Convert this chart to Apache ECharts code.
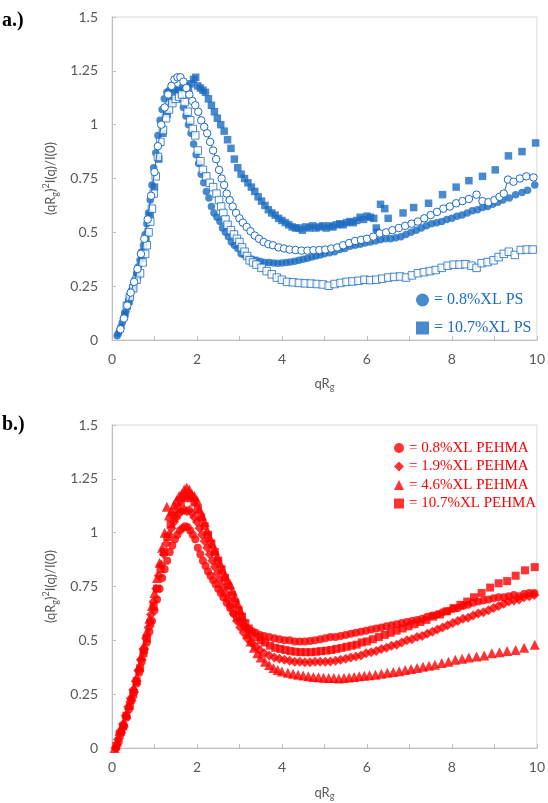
<!DOCTYPE html>
<html><head><meta charset="utf-8">
<script src="https://cdn.jsdelivr.net/npm/echarts@6/dist/echarts.min.js"></script>
<style>html,body{margin:0;padding:0;background:#fff}#c{width:548px;height:803px}</style>
</head><body><div id="c"></div>
<script>
// ---------- Panel a (PS) ----------
const psFilled08 = [[0.12,0.02],[0.15,0.03],[0.18,0.045],[0.21,0.06],[0.24,0.08],[0.27,0.10],[0.30,0.115],[0.33,0.135],[0.36,0.16],[0.39,0.18],[0.42,0.20],[0.46,0.23],[0.50,0.25],[0.54,0.28],[0.58,0.31],[0.62,0.34],[0.66,0.37],[0.70,0.41],[0.74,0.44],[0.78,0.49],[0.82,0.54],[0.86,0.59],[0.90,0.65],[0.94,0.72],[0.98,0.80],[1.03,0.87],[1.08,0.95],[1.13,1.02],[1.18,1.07],[1.23,1.12],[1.29,1.15],[1.35,1.16],[1.42,1.17],[1.48,1.165],[1.55,1.15],[1.62,1.12],[1.68,1.08],[1.74,1.04],[1.80,1.00],[1.86,0.96],[1.92,0.91],[1.98,0.86],[2.04,0.82],[2.10,0.77],[2.16,0.73],[2.22,0.69],[2.28,0.66],[2.34,0.62],[2.40,0.59],[2.47,0.57],[2.54,0.55],[2.60,0.52],[2.67,0.50],[2.74,0.48],[2.81,0.455],[2.88,0.44],[2.96,0.425],[3.04,0.40],[3.12,0.395],[3.20,0.385],[3.30,0.375],[3.40,0.37],[3.50,0.365],[3.60,0.36],[3.70,0.36],[3.80,0.358],[3.90,0.357],[4.00,0.358],[4.10,0.36],[4.20,0.362],[4.30,0.366],[4.40,0.37],[4.50,0.375],[4.60,0.38],[4.70,0.385],[4.80,0.39],[4.90,0.395],[5.00,0.40],[5.12,0.405],[5.24,0.41],[5.36,0.42],[5.48,0.425],[5.60,0.435],[5.72,0.44],[5.84,0.445],[5.96,0.45],[6.08,0.455],[6.20,0.46],[6.32,0.465],[6.44,0.47],[6.56,0.47],[6.68,0.475],[6.80,0.48],[6.92,0.49],[7.04,0.50],[7.16,0.51],[7.28,0.52],[7.40,0.53],[7.52,0.54],[7.64,0.545],[7.76,0.55],[7.88,0.56],[8.00,0.565],[8.12,0.575],[8.24,0.58],[8.36,0.59],[8.48,0.60],[8.60,0.605],[8.72,0.615],[8.84,0.62],[8.96,0.63],[9.08,0.64],[9.20,0.65],[9.35,0.66],[9.50,0.675],[9.65,0.685],[9.78,0.695],[9.95,0.72]];
const psOpen08 = [[0.20,0.05],[0.28,0.10],[0.36,0.16],[0.44,0.22],[0.52,0.27],[0.60,0.33],[0.68,0.40],[0.76,0.47],[0.84,0.56],[0.92,0.67],[1.00,0.78],[1.08,0.90],[1.16,1.00],[1.24,1.08],[1.32,1.14],[1.40,1.18],[1.47,1.21],[1.54,1.22],[1.61,1.22],[1.68,1.20],[1.75,1.17],[1.82,1.14],[1.89,1.11],[1.96,1.09],[2.03,1.06],[2.10,1.02],[2.17,0.99],[2.24,0.96],[2.31,0.92],[2.38,0.88],[2.45,0.84],[2.52,0.79],[2.58,0.75],[2.64,0.72],[2.70,0.68],[2.77,0.65],[2.84,0.62],[2.92,0.59],[3.00,0.565],[3.08,0.545],[3.17,0.525],[3.26,0.505],[3.36,0.485],[3.46,0.47],[3.57,0.455],[3.68,0.445],[3.79,0.44],[3.92,0.43],[4.05,0.425],[4.18,0.42],[4.32,0.418],[4.46,0.415],[4.60,0.415],[4.74,0.417],[4.88,0.418],[5.02,0.42],[5.16,0.425],[5.30,0.43],[5.44,0.44],[5.58,0.45],[5.72,0.46],[5.86,0.465],[6.00,0.47],[6.15,0.48],[6.30,0.495],[6.45,0.50],[6.60,0.51],[6.75,0.52],[6.90,0.53],[7.05,0.54],[7.20,0.55],[7.35,0.565],[7.50,0.58],[7.65,0.595],[7.80,0.61],[7.95,0.62],[8.10,0.635],[8.25,0.645],[8.40,0.655],[8.58,0.675],[8.72,0.645],[8.86,0.64],[9.00,0.65],[9.12,0.665],[9.22,0.68],[9.32,0.745],[9.45,0.735],[9.60,0.75],[9.75,0.76],[9.92,0.755]];
const psFilled107 = [[0.30,0.12],[0.40,0.18],[0.50,0.24],[0.60,0.30],[0.70,0.38],[0.80,0.47],[0.90,0.58],[1.00,0.71],[1.10,0.84],[1.20,0.96],[1.30,1.05],[1.40,1.11],[1.50,1.14],[1.58,1.16],[1.66,1.17],[1.74,1.18],[1.80,1.17],[1.86,1.19],[1.92,1.21],[1.97,1.22],[2.02,1.18],[2.08,1.17],[2.14,1.16],[2.20,1.15],[2.27,1.12],[2.34,1.09],[2.41,1.06],[2.48,1.03],[2.56,1.00],[2.64,0.97],[2.72,0.93],[2.80,0.89],[2.88,0.84],[2.96,0.80],[3.04,0.77],[3.12,0.75],[3.20,0.73],[3.28,0.71],[3.36,0.69],[3.44,0.665],[3.52,0.645],[3.60,0.625],[3.68,0.605],[3.76,0.59],[3.84,0.58],[3.92,0.565],[4.00,0.555],[4.08,0.545],[4.16,0.535],[4.24,0.525],[4.32,0.52],[4.40,0.52],[4.48,0.51],[4.56,0.525],[4.64,0.52],[4.72,0.53],[4.80,0.52],[4.88,0.525],[4.96,0.53],[5.04,0.52],[5.12,0.53],[5.20,0.525],[5.28,0.535],[5.36,0.54],[5.44,0.535],[5.52,0.545],[5.60,0.55],[5.68,0.545],[5.76,0.555],[5.84,0.57],[5.92,0.56],[6.00,0.575],[6.08,0.57],[6.16,0.565],[6.22,0.52],[6.24,0.50],[6.32,0.63],[6.42,0.61],[6.50,0.565],[6.85,0.59],[7.10,0.615],[7.45,0.635],[7.78,0.675],[8.10,0.71],[8.40,0.74],[8.72,0.76],[9.02,0.79],[9.33,0.855],[9.65,0.875],[9.97,0.915]];
const psOpen107 = [[0.35,0.16],[0.42,0.20],[0.50,0.24],[0.58,0.28],[0.66,0.31],[0.72,0.36],[0.78,0.40],[0.82,0.44],[0.86,0.50],[0.90,0.55],[0.94,0.61],[0.98,0.68],[1.03,0.76],[1.08,0.85],[1.14,0.92],[1.20,0.975],[1.27,1.03],[1.34,1.07],[1.42,1.10],[1.50,1.12],[1.58,1.13],[1.65,1.14],[1.71,1.105],[1.78,1.06],[1.84,1.02],[1.90,0.98],[1.96,0.95],[2.02,0.88],[2.08,0.83],[2.14,0.79],[2.22,0.76],[2.30,0.73],[2.38,0.71],[2.46,0.68],[2.52,0.65],[2.57,0.62],[2.62,0.59],[2.67,0.56],[2.72,0.535],[2.80,0.51],[2.87,0.49],[2.94,0.47],[3.00,0.455],[3.06,0.43],[3.12,0.41],[3.18,0.39],[3.24,0.37],[3.32,0.36],[3.40,0.35],[3.52,0.335],[3.64,0.32],[3.76,0.305],[3.88,0.29],[4.00,0.28],[4.12,0.27],[4.26,0.268],[4.40,0.265],[4.54,0.263],[4.68,0.262],[4.82,0.26],[4.96,0.258],[5.10,0.252],[5.24,0.26],[5.38,0.265],[5.52,0.27],[5.66,0.272],[5.80,0.275],[5.94,0.28],[6.08,0.278],[6.22,0.28],[6.36,0.285],[6.50,0.29],[6.64,0.293],[6.78,0.295],[6.92,0.29],[7.06,0.30],[7.20,0.31],[7.34,0.315],[7.48,0.32],[7.62,0.325],[7.76,0.335],[7.90,0.345],[8.04,0.35],[8.18,0.35],[8.32,0.352],[8.46,0.345],[8.58,0.335],[8.70,0.357],[8.84,0.362],[8.98,0.37],[9.10,0.385],[9.22,0.40],[9.34,0.41],[9.48,0.395],[9.62,0.418],[9.76,0.42],[9.90,0.42]];

// ---------- Panel b (PEHMA) ----------
const pe08 = [[0.10,0.00],[0.16,0.03],[0.22,0.07],[0.28,0.10],[0.34,0.14],[0.40,0.18],[0.46,0.22],[0.52,0.26],[0.58,0.30],[0.64,0.35],[0.70,0.40],[0.76,0.45],[0.82,0.49],[0.88,0.54],[0.94,0.59],[1.00,0.64],[1.06,0.69],[1.12,0.74],[1.18,0.79],[1.24,0.83],[1.30,0.87],[1.36,0.91],[1.42,0.94],[1.48,0.97],[1.54,0.99],[1.60,1.01],[1.66,1.02],[1.72,1.03],[1.78,1.025],[1.84,1.01],[1.90,0.99],[1.96,0.97],[2.02,0.93],[2.08,0.90],[2.14,0.87],[2.20,0.845],[2.26,0.82],[2.32,0.80],[2.38,0.78],[2.44,0.76],[2.50,0.74],[2.56,0.72],[2.62,0.70],[2.70,0.675],[2.78,0.65],[2.86,0.625],[2.94,0.605],[3.02,0.585],[3.10,0.57],[3.18,0.555],[3.28,0.545],[3.38,0.535],[3.48,0.525],[3.58,0.52],[3.70,0.515],[3.82,0.51],[3.94,0.505],[4.06,0.50],[4.18,0.50],[4.30,0.495],[4.42,0.495],[4.54,0.495],[4.66,0.497],[4.78,0.50],[4.90,0.505],[5.02,0.51],[5.14,0.515],[5.26,0.515],[5.38,0.52],[5.50,0.525],[5.62,0.53],[5.74,0.535],[5.86,0.54],[5.98,0.545],[6.10,0.55],[6.22,0.555],[6.34,0.56],[6.46,0.565],[6.58,0.57],[6.70,0.575],[6.82,0.58],[6.94,0.585],[7.06,0.59],[7.18,0.595],[7.30,0.60],[7.42,0.61],[7.54,0.615],[7.66,0.62],[7.78,0.63],[7.90,0.635],[8.02,0.645],[8.14,0.65],[8.26,0.66],[8.38,0.665],[8.50,0.675],[8.62,0.68],[8.74,0.685],[8.86,0.69],[8.98,0.695],[9.10,0.70],[9.22,0.70],[9.34,0.705],[9.46,0.71],[9.58,0.705],[9.70,0.715],[9.82,0.72],[9.94,0.72]];
const pe19 = [[0.08,0.00],[0.14,0.04],[0.20,0.08],[0.26,0.11],[0.32,0.15],[0.38,0.19],[0.44,0.23],[0.50,0.27],[0.56,0.31],[0.62,0.36],[0.68,0.41],[0.74,0.46],[0.80,0.51],[0.86,0.56],[0.92,0.62],[0.98,0.68],[1.04,0.74],[1.10,0.80],[1.16,0.85],[1.22,0.90],[1.28,0.95],[1.34,0.99],[1.40,1.02],[1.46,1.05],[1.52,1.07],[1.58,1.09],[1.64,1.10],[1.70,1.105],[1.76,1.10],[1.82,1.105],[1.88,1.09],[1.94,1.07],[2.00,1.05],[2.06,1.02],[2.12,0.99],[2.18,0.96],[2.24,0.93],[2.30,0.90],[2.36,0.87],[2.42,0.84],[2.48,0.81],[2.54,0.78],[2.60,0.75],[2.66,0.72],[2.72,0.69],[2.78,0.66],[2.86,0.625],[2.94,0.59],[3.02,0.56],[3.10,0.535],[3.18,0.51],[3.28,0.49],[3.38,0.47],[3.48,0.455],[3.58,0.44],[3.70,0.43],[3.82,0.42],[3.94,0.415],[4.06,0.41],[4.18,0.405],[4.30,0.40],[4.42,0.40],[4.54,0.398],[4.66,0.398],[4.78,0.40],[4.90,0.40],[5.02,0.40],[5.14,0.402],[5.26,0.405],[5.38,0.41],[5.50,0.415],[5.62,0.42],[5.74,0.425],[5.86,0.43],[5.98,0.44],[6.10,0.445],[6.22,0.45],[6.34,0.46],[6.46,0.465],[6.58,0.475],[6.70,0.48],[6.82,0.49],[6.94,0.50],[7.06,0.505],[7.18,0.515],[7.30,0.52],[7.42,0.53],[7.54,0.54],[7.66,0.55],[7.78,0.56],[7.90,0.57],[8.02,0.58],[8.14,0.59],[8.26,0.60],[8.38,0.605],[8.50,0.615],[8.62,0.625],[8.74,0.63],[8.86,0.64],[8.98,0.65],[9.10,0.66],[9.22,0.67],[9.34,0.68],[9.46,0.685],[9.58,0.69],[9.70,0.70],[9.82,0.705],[9.94,0.71]];
const pe46 = [[0.06,0.00],[0.12,0.03],[0.18,0.08],[0.22,0.09],[0.28,0.12],[0.34,0.16],[0.40,0.20],[0.46,0.24],[0.52,0.28],[0.58,0.33],[0.64,0.38],[0.70,0.43],[0.76,0.48],[0.82,0.54],[0.88,0.60],[0.94,0.66],[1.00,0.72],[1.06,0.79],[1.12,0.86],[1.18,0.93],[1.24,1.00],[1.29,1.12],[1.34,1.08],[1.40,1.10],[1.46,1.13],[1.52,1.15],[1.58,1.17],[1.64,1.18],[1.70,1.20],[1.76,1.21],[1.82,1.20],[1.88,1.18],[1.94,1.17],[2.00,1.15],[2.06,1.11],[2.12,1.08],[2.18,1.05],[2.24,1.01],[2.30,0.98],[2.36,0.95],[2.42,0.92],[2.48,0.89],[2.54,0.86],[2.60,0.83],[2.66,0.80],[2.72,0.78],[2.78,0.76],[2.84,0.73],[2.90,0.70],[2.96,0.67],[3.02,0.64],[3.08,0.61],[3.14,0.57],[3.20,0.53],[3.26,0.495],[3.34,0.465],[3.42,0.44],[3.50,0.42],[3.60,0.40],[3.70,0.385],[3.80,0.372],[3.90,0.362],[4.00,0.355],[4.14,0.35],[4.26,0.345],[4.38,0.34],[4.50,0.337],[4.62,0.333],[4.74,0.33],[4.86,0.328],[4.98,0.326],[5.10,0.325],[5.22,0.325],[5.34,0.323],[5.46,0.325],[5.58,0.327],[5.70,0.33],[5.82,0.333],[5.94,0.335],[6.06,0.338],[6.20,0.34],[6.34,0.345],[6.48,0.35],[6.62,0.353],[6.76,0.357],[6.90,0.362],[7.04,0.367],[7.18,0.372],[7.32,0.377],[7.46,0.382],[7.60,0.387],[7.76,0.395],[7.92,0.40],[8.08,0.41],[8.24,0.415],[8.40,0.42],[8.58,0.425],[8.76,0.43],[8.94,0.44],[9.12,0.445],[9.30,0.45],[9.50,0.455],[9.70,0.465],[9.95,0.48]];
const pe107 = [[0.10,0.01],[0.18,0.06],[0.26,0.10],[0.34,0.15],[0.42,0.20],[0.50,0.25],[0.58,0.31],[0.66,0.37],[0.74,0.44],[0.82,0.51],[0.90,0.58],[0.98,0.66],[1.06,0.74],[1.14,0.83],[1.22,0.91],[1.30,0.98],[1.38,1.04],[1.46,1.08],[1.54,1.11],[1.62,1.14],[1.70,1.16],[1.78,1.17],[1.86,1.16],[1.94,1.14],[2.02,1.11],[2.10,1.07],[2.18,1.03],[2.26,0.99],[2.34,0.95],[2.42,0.91],[2.50,0.87],[2.58,0.83],[2.66,0.79],[2.74,0.75],[2.82,0.71],[2.90,0.675],[2.98,0.64],[3.06,0.61],[3.14,0.58],[3.22,0.555],[3.30,0.535],[3.40,0.515],[3.50,0.50],[3.60,0.49],[3.72,0.475],[3.84,0.465],[3.96,0.46],[4.08,0.455],[4.20,0.45],[4.32,0.447],[4.44,0.445],[4.56,0.445],[4.68,0.445],[4.80,0.447],[4.92,0.45],[5.04,0.452],[5.16,0.455],[5.28,0.46],[5.40,0.465],[5.52,0.47],[5.64,0.475],[5.76,0.48],[5.88,0.49],[6.00,0.495],[6.14,0.505],[6.28,0.515],[6.42,0.525],[6.56,0.535],[6.70,0.545],[6.84,0.555],[6.98,0.565],[7.12,0.575],[7.26,0.585],[7.40,0.595],[7.56,0.61],[7.72,0.62],[7.88,0.635],[8.04,0.65],[8.20,0.665],[8.36,0.68],[8.52,0.70],[8.70,0.72],[8.90,0.745],[9.10,0.765],[9.30,0.775],[9.50,0.80],[9.72,0.825],[9.95,0.84]];

const xTicks = [0, 2, 4, 6, 8, 10];
const yTicks = [0, 0.25, 0.5, 0.75, 1, 1.25, 1.5];
const namesA = ['0.8%XL PS', '10.7%XL PS'];
const namesB = ['0.8%XL PEHMA', '1.9%XL PEHMA', '4.6%XL PEHMA', '10.7%XL PEHMA'];

const BLUE = '#1c6cc2', RED = '#ff0000';
const AX = '#bfbfbf', TXT = '#595959', FONT = 'Lato';

function xAx(gi, gap) {
  return {
    type: 'value', gridIndex: gi, min: 0, max: 10, interval: 1,
    axisLine: { show: true, lineStyle: { color: AX, width: 1 } },
    axisTick: { show: true, inside: true, length: 4, lineStyle: { color: AX } },
    axisLabel: { color: TXT, fontSize: 14, fontFamily: FONT, margin: 12,
      formatter: v => xTicks.includes(v) ? String(v) : '' },
    splitLine: { show: false },
    name: 'qR{s|g}', nameLocation: 'middle', nameGap: gap,
    nameTextStyle: { color: TXT, fontSize: 13, fontFamily: FONT, lineHeight: 16,
      rich: { s: { fontSize: 9, fontFamily: FONT, color: TXT, verticalAlign: 'bottom', lineHeight: 16 } } }
  };
}
function yAx(gi) {
  return {
    type: 'value', gridIndex: gi, min: 0, max: 1.5, interval: 0.25,
    axisLine: { show: true, lineStyle: { color: AX, width: 1 } },
    axisTick: { show: true, inside: true, length: 4, lineStyle: { color: AX } },
    axisLabel: { color: TXT, fontSize: 14, fontFamily: FONT, margin: 14,
      formatter: v => { const t = yTicks.find(k => Math.abs(k - v) < 1e-6); return t === undefined ? '' : String(t); } },
    splitLine: { show: false },
    name: '(qR{s|g}){p|2}I(q)/I(0)', nameLocation: 'middle', nameGap: 50, nameRotate: 90,
    nameTextStyle: { color: TXT, fontSize: 13, fontFamily: FONT, lineHeight: 18,
      rich: {
        s: { fontSize: 9, fontFamily: FONT, color: TXT, verticalAlign: 'bottom', lineHeight: 18 },
        p: { fontSize: 9, fontFamily: FONT, color: TXT, verticalAlign: 'top', lineHeight: 18 }
      } }
  };
}

const chart = echarts.init(document.getElementById('c'), null, { renderer: 'canvas' });
chart.setOption({
  animation: false,
  backgroundColor: '#fff',
  grid: [
    { left: 112, top: 17, width: 426, height: 323, show: true, borderColor: '#d9d9d9', borderWidth: 1, backgroundColor: 'transparent' },
    { left: 112, top: 425, width: 426, height: 323, show: true, borderColor: '#d9d9d9', borderWidth: 1, backgroundColor: 'transparent' }
  ],
  xAxis: [xAx(0, 36), xAx(1, 37)],
  yAxis: [yAx(0), yAx(1)],
  legend: [
    { data: namesA, orient: 'vertical', left: 411, top: 287, itemWidth: 13, itemHeight: 13, itemGap: 12,
      selectedMode: false, formatter: '= {name}',
      textStyle: { color: BLUE, fontFamily: 'Liberation Serif', fontSize: 16, lineHeight: 16 } },
    { data: namesB, orient: 'vertical', left: 389, top: 435, itemWidth: 10, itemHeight: 10, itemGap: 2.5,
      selectedMode: false, formatter: '= {name}',
      textStyle: { color: RED, fontFamily: 'Liberation Serif', fontSize: 15, lineHeight: 16 } }
  ],
  graphic: [
    { type: 'text', left: 2, top: 11, style: { text: 'a.)', font: 'bold 20px "Liberation Serif"', fill: '#000' } },
    { type: 'text', left: 2, top: 415, style: { text: 'b.)', font: 'bold 20px "Liberation Serif"', fill: '#000' } }
  ],
  series: [
    { name: namesA[0], type: 'scatter', xAxisIndex: 0, yAxisIndex: 0, data: psFilled08,
      symbol: 'circle', symbolSize: 7.5, itemStyle: { color: BLUE } },
    { name: '0.8%XL PS (open)', type: 'line', xAxisIndex: 0, yAxisIndex: 0, data: psOpen08,
      symbol: 'circle', symbolSize: 7.5, showSymbol: true, lineStyle: { color: BLUE, width: 1 },
      itemStyle: { color: '#fff', borderColor: BLUE, borderWidth: 1 } },
    { name: namesA[1], type: 'scatter', xAxisIndex: 0, yAxisIndex: 0, data: psFilled107,
      symbol: 'rect', symbolSize: 7.5, itemStyle: { color: BLUE } },
    { name: '10.7%XL PS (open)', type: 'scatter', xAxisIndex: 0, yAxisIndex: 0, data: psOpen107,
      symbol: 'rect', symbolSize: 7.5, itemStyle: { color: '#fff', borderColor: BLUE, borderWidth: 1 } },

    { name: namesB[0], type: 'scatter', xAxisIndex: 1, yAxisIndex: 1, data: pe08,
      symbol: 'circle', symbolSize: 8, itemStyle: { color: RED } },
    { name: namesB[1], type: 'scatter', xAxisIndex: 1, yAxisIndex: 1, data: pe19,
      symbol: 'diamond', symbolSize: 10, itemStyle: { color: RED } },
    { name: namesB[3], type: 'scatter', xAxisIndex: 1, yAxisIndex: 1, data: pe107,
      symbol: 'rect', symbolSize: 8, itemStyle: { color: RED } },
    { name: namesB[2], type: 'scatter', xAxisIndex: 1, yAxisIndex: 1, data: pe46,
      symbol: 'triangle', symbolSize: 10, itemStyle: { color: RED } }
  ]
});
</script>
</body></html>
